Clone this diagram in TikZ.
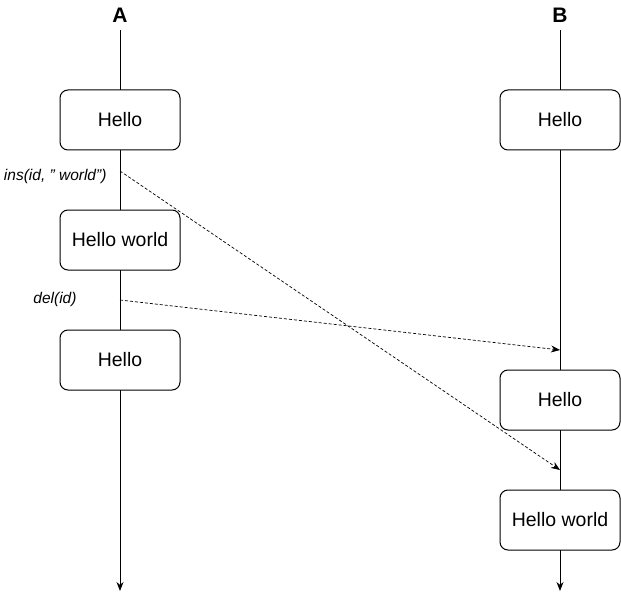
\documentclass[tikz,border=0pt]{standalone}
\usepackage{fontspec}
\setmainfont{Liberation Sans}
\usetikzlibrary{arrows.meta}
\tikzset{
	zustand/.style={draw, line width=1pt, fill=white, rounded corners=8pt, minimum width=120pt, minimum height=60pt, font=\fontsize{19.5}{22}\selectfont},
	operation/.style={font=\fontsize{15.5}{18}\selectfont\itshape},
	zeitachse/.style={line width=1pt, -{Stealth[length=9pt, width=7pt]}},
	nachricht/.style={line width=0.7pt, dashed, dash pattern=on 3pt off 2pt, -{Stealth[length=9pt, width=7pt]}}
}
\begin{document}
\begin{tikzpicture}[x=1pt, y=-1pt]
	\useasboundingbox (0,0) rectangle (621,599);
	\node[font=\fontsize{21}{24}\selectfont\bfseries] (A) at (120,15) {A};
	\node[font=\fontsize{21}{24}\selectfont\bfseries] (B) at (560,15) {B};
	\coordinate (Aoben) at (120,30);
	\coordinate (Aunten) at (120,591);
	\coordinate (Boben) at (560,30);
	\coordinate (Bunten) at (560,591);
	\draw[zeitachse] (Aoben) -- (Aunten);%Zeitachse A
	\draw[zeitachse] (Boben) -- (Bunten);%Zeitachse B

	\node[zustand] (a1) at (120,120) {Hello};
	\node[zustand] (a2) at (120,240) {Hello world};
	\node[zustand] (a3) at (120,360) {Hello};
	\node[zustand] (b1) at (560,120) {Hello};
	\node[zustand] (b2) at (560,400) {Hello};
	\node[zustand] (b3) at (560,520) {Hello world};

	\coordinate (insA) at (120,171);
	\coordinate (insB) at (560,470);
	\coordinate (delA) at (120,300);
	\coordinate (delB) at (560,350);
	\node[operation, anchor=east] (ins) at (110,176) {ins(id, "\ world")};
	\node[operation] (del) at (55,299) {del(id)};

	\draw[nachricht] (insA) -- (insB);%Einfuegen
	\draw[nachricht] (delA) -- (delB);%Loeschen
\end{tikzpicture}
\end{document}
